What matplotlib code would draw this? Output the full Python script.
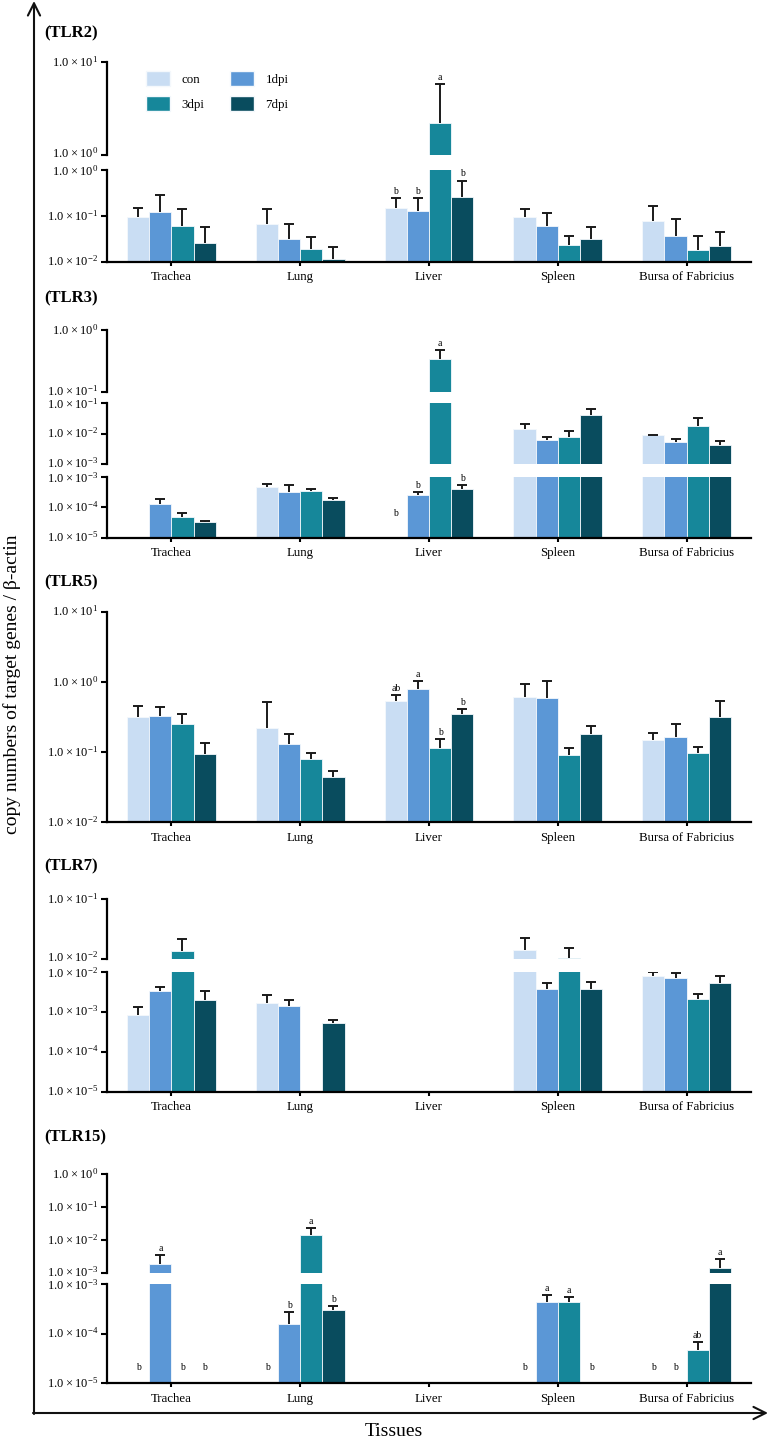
import numpy as np
import matplotlib.pyplot as plt
from matplotlib.patches import Patch
from matplotlib.ticker import FixedLocator, NullLocator
from matplotlib.transforms import ScaledTranslation

plt.rcParams['font.family'] = ['Liberation Serif', 'DejaVu Serif']
plt.rcParams['mathtext.fontset'] = 'custom'
plt.rcParams['mathtext.rm'] = 'Liberation Serif'
plt.rcParams['mathtext.default'] = 'regular'

nan = np.nan
tissues = ['Trachea', 'Lung', 'Liver', 'Spleen', 'Bursa of Fabricius']
groups = ['con', '1dpi', '3dpi', '7dpi']
colors = ['#C9DDF3', '#5B97D6', '#16879A', '#094C5E']

# rows = tissues, columns = con / 1dpi / 3dpi / 7dpi
tlr2_mean = [[0.095, 0.12, 0.061, 0.025],
             [0.066, 0.031, 0.019, 0.0116],
             [0.152, 0.126, 2.23, 0.255],
             [0.094, 0.059, 0.023, 0.032],
             [0.077, 0.037, 0.018, 0.022]]
tlr2_sd = [[0.057, 0.16, 0.081, 0.031],
           [0.072, 0.037, 0.015, 0.009],
           [0.091, 0.119, 3.51, 0.335],
           [0.048, 0.055, 0.014, 0.025],
           [0.086, 0.048, 0.018, 0.023]]
tlr2_letters = [['', '', '', ''], ['', '', '', ''], ['b', 'b', 'a', 'b'],
                ['', '', '', ''], ['', '', '', '']]

tlr3_mean = [[nan, 1.24e-4, 4.7e-5, 3.2e-5],
             [4.6e-4, 3.2e-4, 3.3e-4, 1.72e-4],
             [nan, 2.5e-4, 0.339, 3.96e-4],
             [1.44e-2, 6.1e-3, 7.7e-3, 4.0e-2],
             [9.1e-3, 5.3e-3, 1.76e-2, 4.3e-3]]
tlr3_sd = [[nan, 0.62e-4, 1.6e-5, 0.3e-5],
           [1.0e-4, 2.0e-4, 0.66e-4, 0.33e-4],
           [nan, 0.7e-4, 0.139, 1.34e-4],
           [6.6e-3, 1.9e-3, 4.7e-3, 2.6e-2],
           [0.2e-3, 1.6e-3, 1.64e-2, 1.6e-3]]
tlr3_letters = [['', '', '', ''], ['', '', '', ''], ['b', 'b', 'a', 'b'],
                ['', '', '', ''], ['', '', '', '']]

tlr5_mean = [[0.313, 0.324, 0.254, 0.094],
             [0.22, 0.129, 0.079, 0.0437],
             [0.535, 0.79, 0.115, 0.349],
             [0.6, 0.59, 0.09, 0.183],
             [0.147, 0.163, 0.096, 0.319]]
tlr5_sd = [[0.145, 0.119, 0.098, 0.04],
           [0.3, 0.05, 0.017, 0.0093],
           [0.122, 0.23, 0.037, 0.062],
           [0.325, 0.43, 0.023, 0.05],
           [0.042, 0.088, 0.022, 0.211]]
tlr5_letters = [['', '', '', ''], ['', '', '', ''], ['ab', 'a', 'b', 'b'],
                ['', '', '', ''], ['', '', '', '']]

tlr7_mean = [[8.3e-4, 3.35e-3, 1.35e-2, 1.96e-3],
             [1.62e-3, 1.36e-3, nan, 5.1e-4],
             [nan, nan, nan, nan],
             [1.42e-2, 3.7e-3, 1.04e-2, 3.63e-3],
             [7.8e-3, 7.0e-3, 2.04e-3, 5.1e-3]]
tlr7_sd = [[0.5e-3, 0.85e-3, 0.81e-2, 1.39e-3],
           [1.04e-3, 0.64e-3, nan, 1.0e-4],
           [nan, nan, nan, nan],
           [0.86e-2, 1.5e-3, 0.51e-2, 1.77e-3],
           [1.9e-3, 2.3e-3, 0.68e-3, 2.6e-3]]
tlr7_letters = [['', '', '', '']] * 5

tlr15_mean = [[nan, 1.9e-3, nan, nan],
              [nan, 1.56e-4, 1.45e-2, 2.96e-4],
              [nan, nan, nan, nan],
              [nan, 4.4e-4, 4.4e-4, nan],
              [nan, nan, 4.66e-5, 1.42e-3]]
tlr15_sd = [[nan, 1.6e-3, nan, nan],
            [nan, 1.14e-4, 0.95e-2, 0.74e-4],
            [nan, nan, nan, nan],
            [nan, 1.6e-4, 1.2e-4, nan],
            [nan, nan, 2.14e-5, 1.23e-3]]
tlr15_letters = [['b', 'a', 'b', 'b'], ['b', 'b', 'a', 'b'], ['', '', '', ''],
                 ['b', 'a', 'a', 'b'], ['b', 'b', 'ab', 'a']]

W, H = 770, 1444
AX_L, AX_R = 107, 751
BAR_W = 0.172
INK = '#1a1a1a'

fig = plt.figure(figsize=(W / 100, H / 100), dpi=100)

# outer frame with arrows
bg = fig.add_axes([0, 0, 1, 1])
bg.set_xlim(0, W)
bg.set_ylim(H, 0)
bg.axis('off')
arrow = dict(arrowstyle='->', lw=1.5, color='#111111', mutation_scale=22,
             shrinkA=0, shrinkB=0)
bg.annotate('', xy=(34, 1), xytext=(34, 1414), arrowprops=arrow)
bg.annotate('', xy=(768, 1413), xytext=(33, 1413), arrowprops=arrow)


def sci_label(k):
    return r'$1.0\times10^{%d}$' % k


def draw_panel(title, title_y, mean, sd, letters, segments, absent_val=None,
               legend=False):
    mean = np.array(mean, dtype=float)
    sd = np.array(sd, dtype=float)
    floor = 10.0 ** segments[-1][0]
    fig.text(44 / W, 1 - title_y / H, title, fontsize=12, fontweight='bold',
             ha='left', va='center')
    axes = []
    n = len(segments)
    for i, (lo, hi, y_top, y_bot) in enumerate(segments):
        last = i == n - 1
        ymin, ymax = 10.0 ** lo, 10.0 ** hi
        ax = fig.add_axes([AX_L / W, 1 - y_bot / H, (AX_R - AX_L) / W,
                           (y_bot - y_top) / H])
        ax.patch.set_visible(False)
        ax.set_yscale('log')
        ax.set_xlim(-0.5, 4.5)
        ax.set_ylim(ymin, ymax)
        for s in ['top', 'right']:
            ax.spines[s].set_visible(False)
        ax.spines['left'].set_linewidth(1.6)
        ax.spines['bottom'].set_linewidth(1.6)
        ax.spines['bottom'].set_visible(last)
        ks = list(range(lo, hi + 1))
        ax.yaxis.set_major_locator(FixedLocator([10.0 ** k for k in ks]))
        ax.yaxis.set_minor_locator(NullLocator())
        ax.yaxis.set_major_formatter(plt.NullFormatter())
        ax.tick_params(axis='y', length=4, width=1.5)
        # tick labels, nudged apart where two segments meet
        for k in ks:
            dy = 0.0
            if k == lo and not last:
                dy = 1.0
            if k == hi and i > 0:
                dy = -1.0
            tr = ax.get_yaxis_transform() + ScaledTranslation(
                -6.5 / 72, dy / 72, fig.dpi_scale_trans)
            ax.text(0, 10.0 ** k, sci_label(k), transform=tr, ha='right',
                    va='center', fontsize=9)
        if last:
            ax.set_xticks(range(len(tissues)))
            ax.set_xticklabels(tissues)
            ax.tick_params(axis='x', length=3, width=1.5, pad=4,
                           labelsize=9.3)
        else:
            ax.set_xticks([])

        for g in range(4):
            x = np.arange(len(tissues)) + (g - 1.5) * BAR_W
            v = mean[:, g]
            e = sd[:, g]
            ok = ~np.isnan(v)
            ax.bar(x[ok], v[ok] - floor, BAR_W, bottom=floor, color=colors[g],
                   edgecolor='#f4f8fc', linewidth=0.6, zorder=2)
            top = v + e
            ax.vlines(x[ok], v[ok], top[ok], color=INK, lw=1.4, zorder=3)
            inside = ok & (top >= ymin) & (top <= ymax)
            ax.plot(x[inside], top[inside], ls='none', marker='_', ms=7.5,
                    mew=1.4, color=INK, zorder=3)
            for t in range(len(tissues)):
                lab = letters[t][g]
                if not lab:
                    continue
                if np.isnan(v[t]):
                    if last:
                        ax.text(x[t], absent_val, lab, fontsize=7,
                                ha='center', va='center')
                    continue
                if ymin <= top[t] <= ymax:
                    ax.annotate(lab, (x[t], top[t]), xytext=(0, 1.5),
                                textcoords='offset points', ha='center',
                                va='bottom', fontsize=7)
        axes.append(ax)

    if legend:
        order = [0, 2, 1, 3]
        handles = [Patch(facecolor=colors[i], edgecolor='#f4f8fc')
                   for i in order]
        axes[0].legend(handles, [groups[i] for i in order], ncol=2,
                       frameon=False, loc='upper left',
                       bbox_to_anchor=(146 / W, 1 - 71 / H),
                       bbox_transform=fig.transFigure, fontsize=9.3,
                       handlelength=1.86, handleheight=1.45,
                       handletextpad=0.9, columnspacing=1.96,
                       labelspacing=0.75, borderpad=0, borderaxespad=0)
    return axes


draw_panel('(TLR2)', 33, tlr2_mean, tlr2_sd, tlr2_letters,
           [(0, 1, 62, 155), (-2, 0, 170, 261.7)], legend=True)
draw_panel('(TLR3)', 298, tlr3_mean, tlr3_sd, tlr3_letters,
           [(-1, 0, 330, 392.3), (-3, -1, 403.3, 464.3),
            (-5, -3, 476.7, 537.7)], absent_val=6e-5)
draw_panel('(TLR5)', 582, tlr5_mean, tlr5_sd, tlr5_letters,
           [(-2, 1, 611.7, 822.3)])
draw_panel('(TLR7)', 866, tlr7_mean, tlr7_sd, tlr7_letters,
           [(-2, -1, 899.3, 959), (-5, -2, 971.7, 1091.7)])
draw_panel('(TLR15)', 1137, tlr15_mean, tlr15_sd, tlr15_letters,
           [(-3, 0, 1174, 1273.3), (-5, -3, 1284.3, 1383)],
           absent_val=2.1e-5)

fig.text(12 / W, 1 - 684 / H, 'copy numbers of target genes / β-actin',
         rotation=90, fontsize=14, ha='center', va='center')
fig.text(394 / W, 1 - 1431 / H, 'Tissues', fontsize=14, ha='center',
         va='center')

fig.savefig('out.png', dpi=100)
